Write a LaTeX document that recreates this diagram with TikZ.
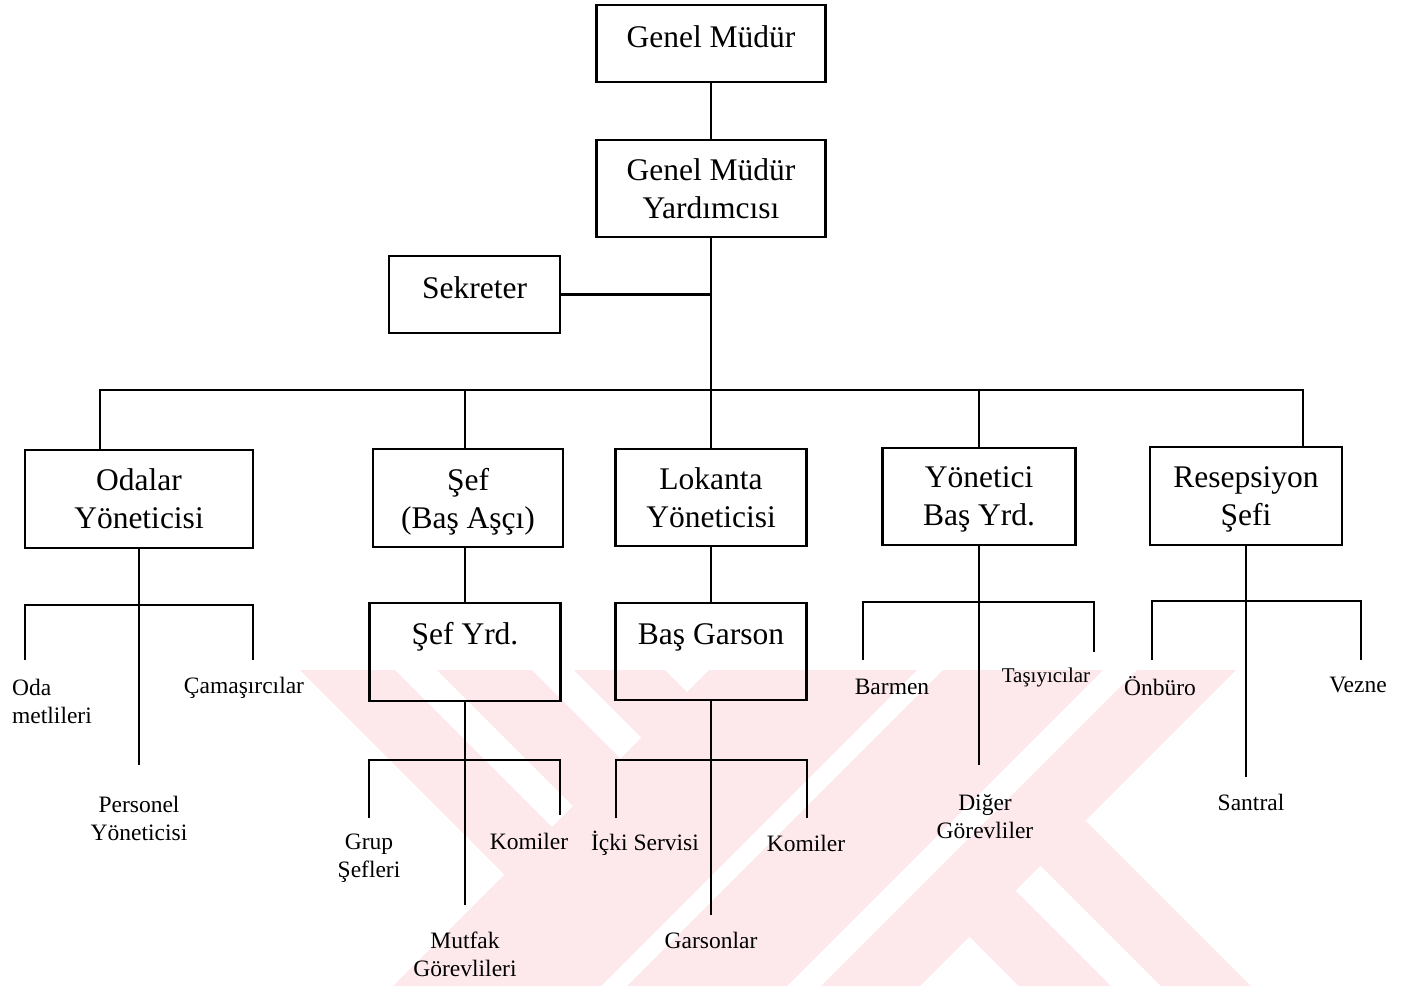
\documentclass[tikz,border=0pt]{standalone}
\usepackage{fontspec}
\setmainfont{Liberation Serif}
\definecolor{wmark}{RGB}{253,232,236}
% last line of a box without its descender, so that all boxes centre alike
\newcommand{\nodepth}[1]{\raisebox{0pt}[\height][0pt]{#1}}
\begin{document}
\begin{tikzpicture}[x=1pt,y=-1pt,
  wire/.style={line width=2.6pt},
  box/.style={draw, line width=2.6pt, inner sep=0pt, align=center,
    font=\fontsize{31.5}{38}\selectfont},
  boxone/.style={box, text height=22pt, text depth=15pt},
  boxtop/.style={box, text height=22pt, text depth=37pt},
  lbl/.style={inner sep=0pt, align=center, font=\fontsize{23.5}{28}\selectfont}]
\useasboundingbox (0,0) rectangle (1402,986);

% faint background emblem made of diagonal stripes
\begin{scope}
  \clip (0,670) rectangle (1402,986);
  % stripes falling to the left
  \fill[wmark] (709,670) -- (917,670) -- (601,986) -- (393,986) -- cycle;
  \fill[wmark] (943,670) -- (1103,670) -- (787,986) -- (627,986) -- cycle;
  \fill[wmark] (1137,670) -- (1236,670) -- (920,986) -- (821,986) -- cycle;
  % upper left arm
  \begin{scope}
    \clip (0,670) -- (709,670) -- (393,986) -- (0,986) -- cycle;
    \fill[wmark] (300,670) -- (395,670) -- (711,986) -- (616,986) -- cycle;
    \fill[wmark] (437,670) -- (532,670) -- (848,986) -- (753,986) -- cycle;
    \fill[wmark] (574,670) -- (665,670) -- (981,986) -- (890,986) -- cycle;
  \end{scope}
  % lower right arm
  \begin{scope}
    \clip (1236,670) -- (1402,670) -- (1402,986) -- (920,986) -- cycle;
    \fill[wmark] (703,670) -- (795,670) -- (1111,986) -- (1019,986) -- cycle;
    \fill[wmark] (845,670) -- (935,670) -- (1251,986) -- (1161,986) -- cycle;
  \end{scope}
\end{scope}

% top management
\node[boxone, minimum width=229pt, minimum height=77pt] (gm) at (711,43.5) {Genel Müdür};
\node[box, minimum width=229pt, minimum height=97pt] (gmy) at (711,188.5) {Genel Müdür\\Yardımcısı};
\node[boxone, minimum width=171pt, minimum height=77pt] (sek) at (474.5,294.5) {Sekreter};

% department heads
\node[box, minimum width=228pt, minimum height=98pt] (oda) at (139,499) {Odalar\\Yöneticisi};
\node[box, minimum width=190pt, minimum height=98pt] (sef) at (468,498) {Şef\\\nodepth{(Baş Aşçı)}};
\node[box, minimum width=191pt, minimum height=97pt] (lok) at (711,497.5) {Lokanta\\Yöneticisi};
\node[box, minimum width=193pt, minimum height=97pt] (yon) at (979,496.5) {Yönetici\\\nodepth{Baş Yrd.}};
\node[box, minimum width=192pt, minimum height=98pt] (res) at (1246,496) {Resepsiyon\\\nodepth{Şefi}};

% second level boxes
\node[boxtop, minimum width=191pt, minimum height=98pt] (sy) at (465,652) {Şef Yrd.};
\node[boxtop, minimum width=191pt, minimum height=97pt] (bg) at (711,651.5) {Baş Garson};

% staff labels
\node[lbl, align=left, anchor=west] (odah) at (12,701) {Oda\\metlileri};
\node[lbl] (cam) at (244,688) {Çamaşırcılar};
\node[lbl] (per) at (139,818) {Personel\\Yöneticisi};
\node[lbl] (grup) at (369,858) {Grup\\Şefleri};
\node[lbl] (kom1) at (529,841) {Komiler};
\node[lbl] (mut) at (465,954) {Mutfak\\Görevlileri};
\node[lbl] (icki) at (645,843) {İçki Servisi};
\node[lbl] (kom2) at (806,843) {Komiler};
\node[lbl] (gar) at (711,940) {Garsonlar};
\node[lbl] (bar) at (892,687) {Barmen};
\node[lbl, font=\fontsize{21}{25}\selectfont] (tas) at (1046,677) {Taşıyıcılar};
\node[lbl] (dig) at (985,817) {Diğer\\Görevliler};
\node[lbl] (onb) at (1160,686) {Önbüro};
\node[lbl] (vez) at (1358,685) {Vezne};
\node[lbl] (san) at (1251,802) {Santral};

% junction points and free ends of the connectors
\coordinate (bus) at (711,390);
\coordinate (odaB) at (139,605);
\coordinate (odaL) at (25,660);
\coordinate (odaR) at (253,660);
\coordinate (odaD) at (139,765);
\coordinate (syB) at (465,760);
\coordinate (syL) at (369,818);
\coordinate (syR) at (560,815);
\coordinate (syD) at (465,905);
\coordinate (bgB) at (711,760);
\coordinate (bgL) at (616,818);
\coordinate (bgR) at (807,818);
\coordinate (bgD) at (711,915);
\coordinate (yonB) at (979,602);
\coordinate (yonL) at (863,660);
\coordinate (yonR) at (1094,652);
\coordinate (yonD) at (979,765);
\coordinate (resB) at (1246,601);
\coordinate (resL) at (1152,660);
\coordinate (resR) at (1361,660);
\coordinate (resD) at (1246,777);

% upper connectors
\draw[wire] (gm) -- (gmy);
\draw[wire] (gmy.south) -- (bus);
\draw[wire] (sek.east) -- (sek.east -| bus);
\draw[wire] ([xshift=-39pt]oda.north) |- (bus) -| ([xshift=57pt]res.north);
\draw[wire] (sy.north |- sef.north) -- (sy.north |- bus);
\draw[wire] (lok.north) -- (bus);
\draw[wire] (yon.north) -- (yon.north |- bus);

% odalar branch
\draw[wire] (oda.south) -- (odaD);
\draw[wire] (odaL) |- (odaB) -| (odaR);

% chef branch
\draw[wire] (sy.north |- sef.south) -- (sy.north);
\draw[wire] (sy.south) -- (syD);
\draw[wire] (syL) |- (syB) -| (syR);

% restaurant branch
\draw[wire] (lok.south) -- (bg.north);
\draw[wire] (bg.south) -- (bgD);
\draw[wire] (bgL) |- (bgB) -| (bgR);

% assistant manager branch
\draw[wire] (yon.south) -- (yonD);
\draw[wire] (yonL) |- (yonB) -| (yonR);

% reception branch
\draw[wire] (res.south) -- (resD);
\draw[wire] (resL) |- (resB) -| (resR);
\end{tikzpicture}
\end{document}
